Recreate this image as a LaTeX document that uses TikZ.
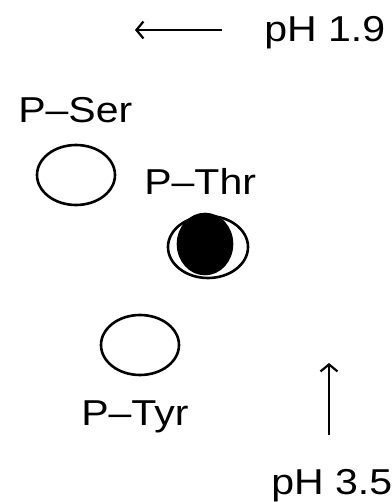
\documentclass[tikz,border=0pt]{standalone}
\usepackage{fontspec}
\newfontfamily\plotfont[FakeStretch=1.14]{Liberation Sans}
\usetikzlibrary{arrows.meta,shapes.geometric}

\begin{document}
\begin{tikzpicture}[x=1pt, y=-1pt, line width=2.6pt, >={Straight Barb[length=7pt, width=17pt]},
  lbl/.style={anchor=base west, inner sep=0pt, font=\plotfont\fontsize{36}{40}\selectfont},
  spot/.style={draw, ellipse, inner sep=0pt, minimum width=78pt, minimum height=60pt}]
\useasboundingbox (0,0) rectangle (391,502);
% pH axes
\node[lbl] (ph1) at (263,42) {pH 1.9};
\coordinate (ax1s) at (222,30);
\coordinate (ax1e) at (135,30);
\draw[->, line width=2.2pt] (ax1s) -- (ax1e);
\node[lbl] (ph2) at (270,494) {pH 3.5};
\coordinate (ax2s) at (329,435);
\coordinate (ax2e) at (329,363);
\draw[->, line width=2.2pt] (ax2s) -- (ax2e);
% spots
\node[lbl] (ser) at (17,123) {P\textendash Ser};
\node[spot] (serspot) at (76,175) {};
\node[lbl] (thr) at (143,195) {P\textendash Thr};
\node[spot, minimum width=80pt, minimum height=62pt] (thrspot) at (208,247) {};
\node[draw, ellipse, fill=black, inner sep=0pt, minimum width=54pt, minimum height=60pt] (thrblob) at (205,244) {};
\node[spot] (tyrspot) at (140,345) {};
\node[lbl] (tyr) at (80,425) {P\textendash Tyr};
\end{tikzpicture}
\end{document}
